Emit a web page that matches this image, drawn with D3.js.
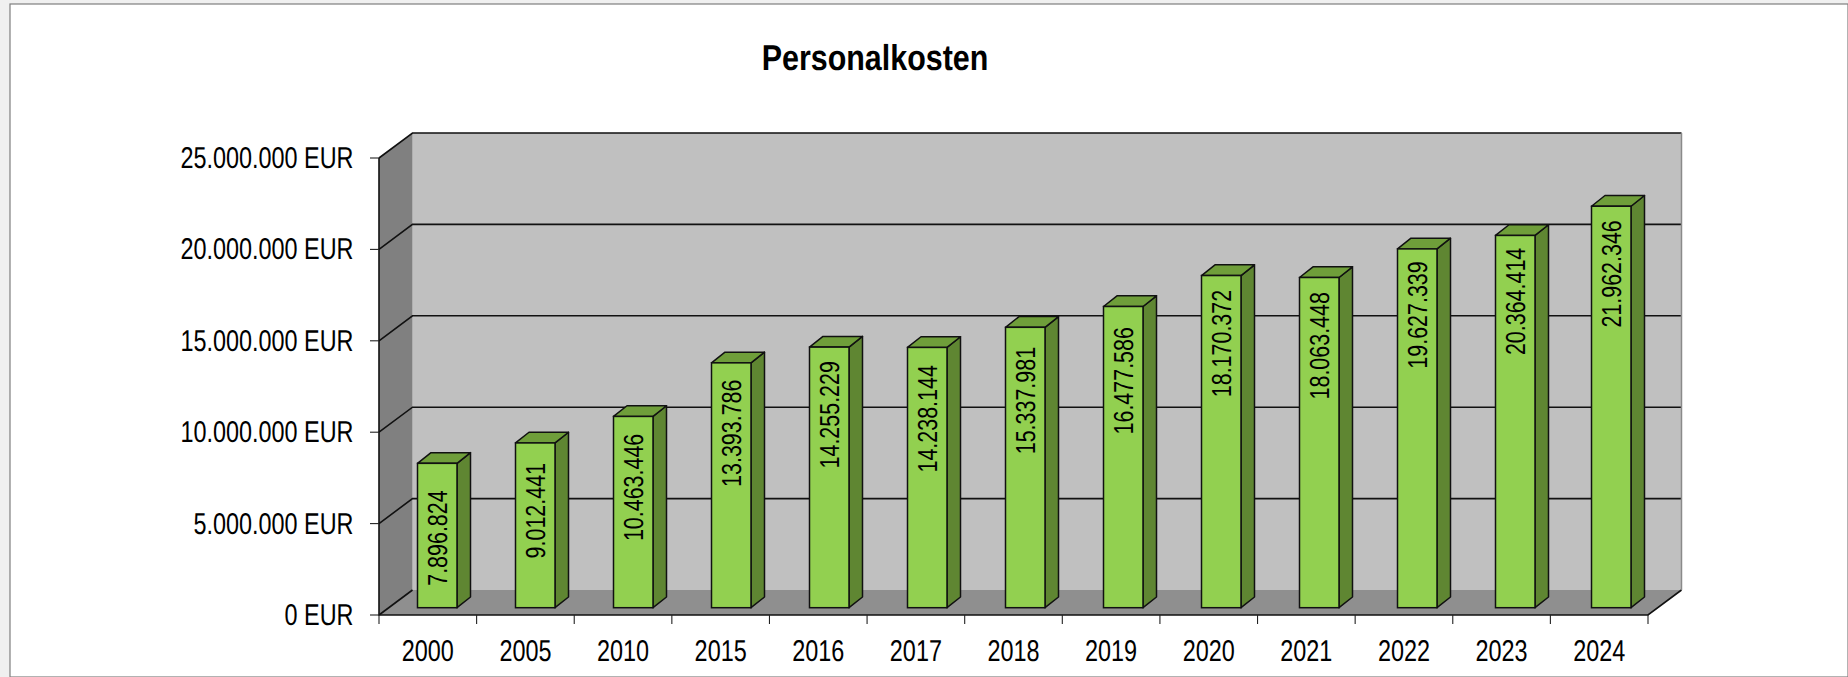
<!DOCTYPE html>
<html><head><meta charset="utf-8">
<script src="https://cdn.jsdelivr.net/npm/d3@7"></script>
<style>html,body{margin:0;padding:0;background:#f0f0f0;overflow:hidden}svg{display:block;text-rendering:geometricPrecision}</style>
</head><body><svg id="c" width="1848" height="677"></svg>
<script>
const categories = ["2000","2005","2010","2015","2016","2017","2018","2019","2020","2021","2022","2023","2024"];
const personalkosten = [7896824,9012441,10463446,13393786,14255229,14238144,15337981,16477586,18170372,18063448,19627339,20364414,21962346];
const valueLabels = ["7.896.824","9.012.441","10.463.446","13.393.786","14.255.229","14.238.144","15.337.981","16.477.586","18.170.372","18.063.448","19.627.339","20.364.414","21.962.346"];
const yTicks = [0,5000000,10000000,15000000,20000000,25000000];
const yTickLabels = ["0 EUR","5.000.000 EUR","10.000.000 EUR","15.000.000 EUR","20.000.000 EUR","25.000.000 EUR"];
const titleText = "Personalkosten";
const labelGap = [27,20,17.3,16.7,14,17.7,19.6,20.6,14.3,14.6,12.4,12.3,14];

const font = "'Liberation Sans',Arial,sans-serif";
const svg = d3.select("#c");
const y = d3.scaleLinear().domain([0,25000000]).range([615,158]);
const x = d3.scaleBand().domain(categories).range([379,1648]);
const barPoint = d3.scalePoint().domain(categories).range([417.5,1593.5]);
const barX = c => barPoint(c) - (c === "2024" ? 2 : 0);
const barW = 39.5, sideDx = 13.5, sideDy = -10.7, baseY = 607.7;
const dx = 33.5, dy = -25;
const barH = v => y(0) - y(v);

svg.append("rect").attr("x",10).attr("y",4).attr("width",1838).attr("height",673)
  .attr("fill","#fff").attr("stroke","#7f7f7f").attr("stroke-width",1.2);

// walls
const xL = x.range()[0], xR = x.range()[1], y0 = y(0), yT = y(25000000);
svg.append("polygon").attr("points",[[xL+dx,yT+dy],[xR+dx,yT+dy],[xR+dx,y0+dy],[xL+dx,y0+dy]].join(" ")).attr("fill","#c0c0c0");
svg.append("polygon").attr("points",[[xL,yT],[xL+dx,yT+dy],[xL+dx,y0+dy],[xL,y0]].join(" ")).attr("fill","#808080");
svg.append("polygon").attr("points",[[xL,y0],[xL+dx,y0+dy],[xR+dx,y0+dy],[xR,y0]].join(" ")).attr("fill","#8f8f8f");

// gridlines
const grid = svg.append("g").attr("fill","none").attr("stroke","#111").attr("stroke-width",1.6);
yTicks.forEach(t=>{
  if(t>0) grid.append("path").attr("d",`M${xL},${y(t)}L${xL+dx},${y(t)+dy}H${xR+dx}`);
});
grid.append("path").attr("d",`M${xL},${y0}L${xL+dx},${y0+dy}`);
grid.append("path").attr("d",`M${xL},${yT}V${y0}H${xR}L${xR+dx},${y0+dy}`);
svg.append("path").attr("d",`M${xR+dx},${yT+dy}V${y0+dy}`).attr("stroke","#8a8a8a").attr("stroke-width",1.5).attr("fill","none");

// axes ticks
const ax = svg.append("g").attr("stroke","#222").attr("stroke-width",1.1);
yTicks.forEach(t=>ax.append("line").attr("x1",xL-9).attr("x2",xL).attr("y1",y(t)).attr("y2",y(t)));
[...categories.map(c=>x(c)),xR].forEach(px=>ax.append("line").attr("x1",px).attr("x2",px).attr("y1",y0).attr("y2",y0+9));

svg.append("g").selectAll("text").data(yTicks).join("text")
  .attr("transform",t=>`translate(353.5,${y(t)+10}) scale(.78,1)`).attr("text-anchor","end")
  .attr("font-family",font).attr("font-size",30).attr("fill","#000")
  .text((t,i)=>yTickLabels[i]);
svg.append("g").selectAll("text").data(categories).join("text")
  .attr("transform",c=>`translate(${x(c)+x.bandwidth()/2},660.5) scale(.78,1)`).attr("text-anchor","middle")
  .attr("font-family",font).attr("font-size",30).attr("fill","#000")
  .text(c=>c);

// bars
const bars = svg.append("g").selectAll("g").data(categories).join("g");
const val = (i)=>personalkosten[i];
bars.append("polygon").attr("fill","#5f8632").attr("stroke","#111").attr("stroke-width",1.5).attr("stroke-linejoin","round")
  .attr("points",(c,i)=>{const r=barX(c)+barW,t=baseY-barH(val(i));return [[r,t],[r+sideDx,t+sideDy],[r+sideDx,baseY+sideDy],[r,baseY]].join(" ");});
bars.append("polygon").attr("fill","#6f9e3a").attr("stroke","#111").attr("stroke-width",1.5).attr("stroke-linejoin","round")
  .attr("points",(c,i)=>{const l=barX(c),t=baseY-barH(val(i));return [[l,t],[l+sideDx,t+sideDy],[l+barW+sideDx,t+sideDy],[l+barW,t]].join(" ");});
bars.append("rect").attr("fill","#92d050").attr("stroke","#111").attr("stroke-width",1.5)
  .attr("x",c=>barX(c)).attr("width",barW)
  .attr("y",(c,i)=>baseY-barH(val(i))).attr("height",(c,i)=>barH(val(i)));
bars.append("text").attr("font-family",font).attr("font-size",27.5).attr("fill","#000").attr("text-anchor","end")
  .attr("transform",(c,i)=>`translate(${barX(c)+barW/2+9.3},${baseY-barH(val(i))+labelGap[i]}) rotate(-90) scale(.78,1)`)
  .text((c,i)=>valueLabels[i]);

svg.append("text").attr("transform","translate(875,70) scale(.845,1)").attr("text-anchor","middle")
  .attr("font-family",font).attr("font-weight","bold").attr("font-size",36).attr("fill","#000").text(titleText);
</script></body></html>
